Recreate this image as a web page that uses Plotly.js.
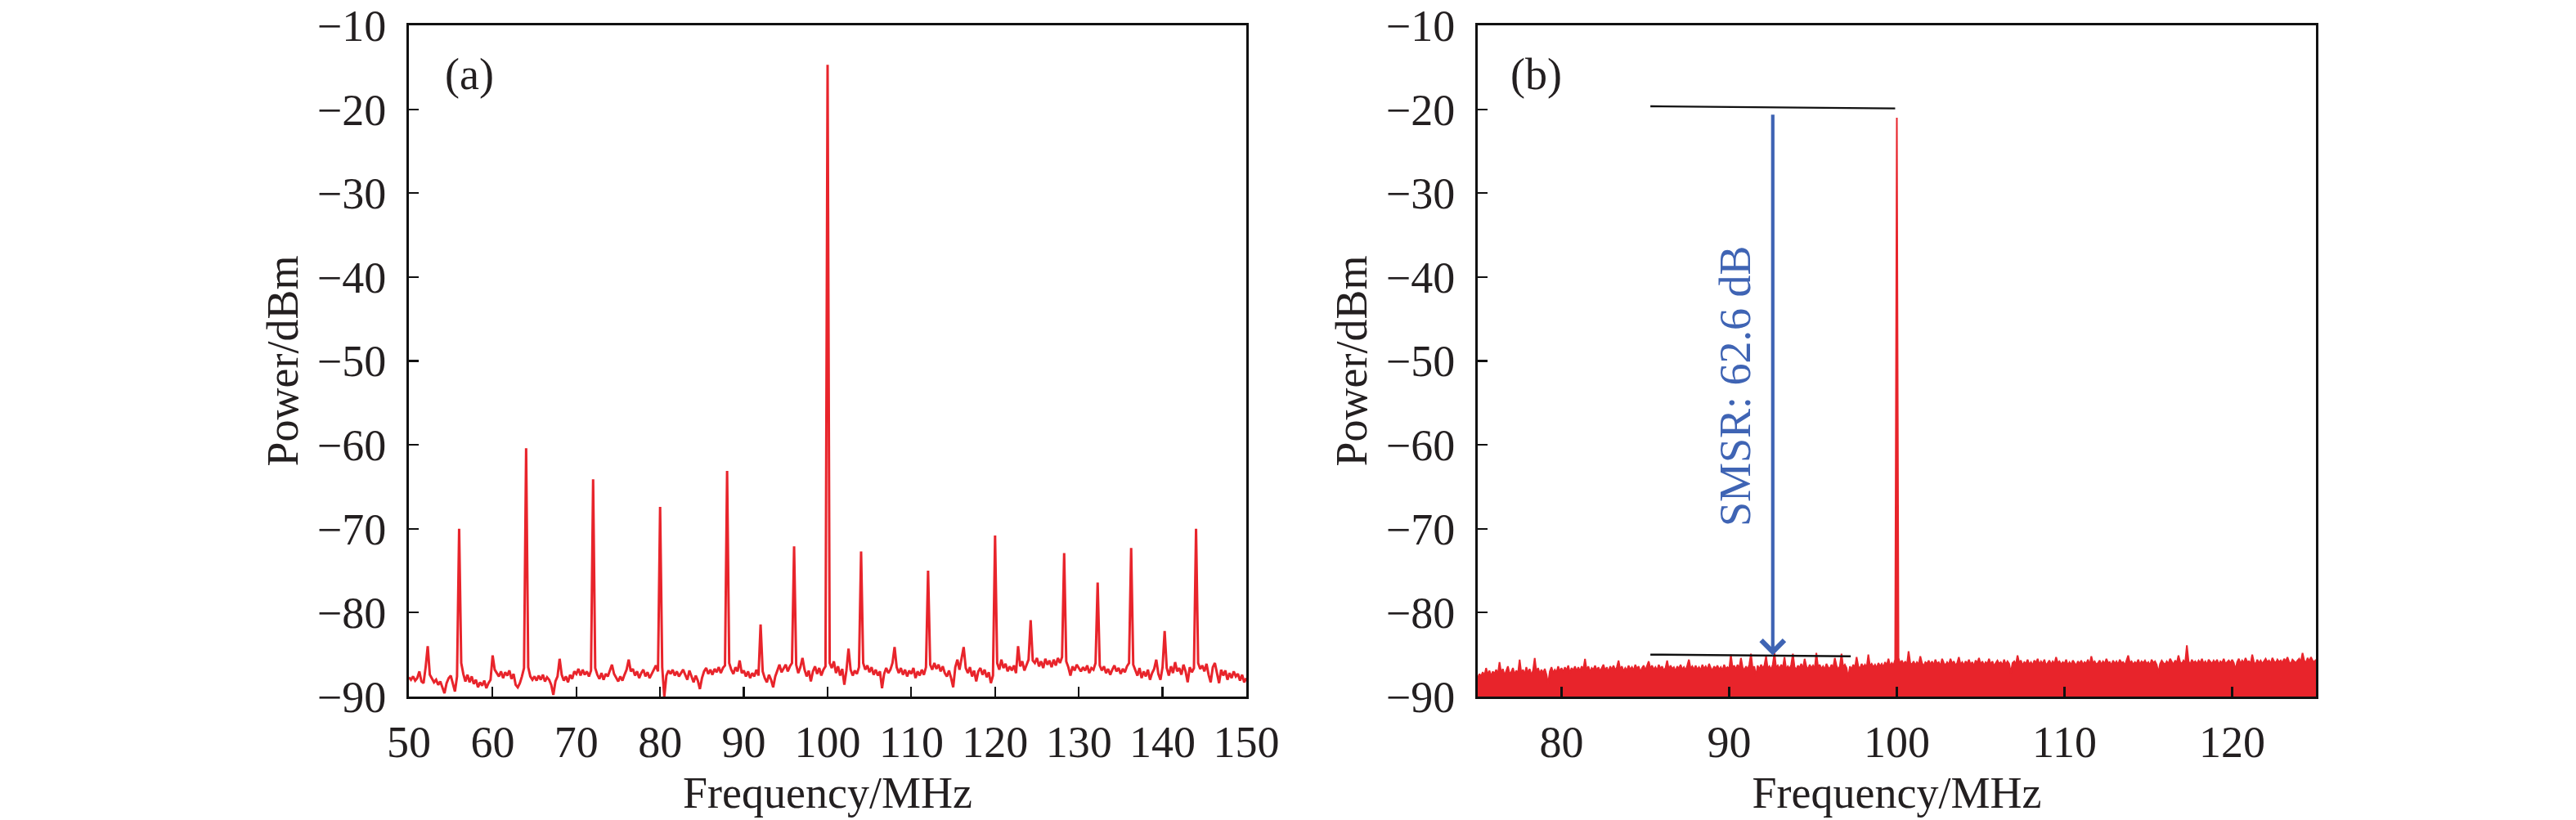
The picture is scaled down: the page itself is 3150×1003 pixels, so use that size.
<!DOCTYPE html>
<html>
<head>
<meta charset="utf-8">
<script src="https://cdn.plot.ly/plotly-3.0.1.min.js"></script>
<style>html,body{margin:0;padding:0;background:#fff;}#chart{width:3150px;height:1003px;}</style>
</head>
<body>
<div id="chart"></div>
<script>
// ---------- Panel (a): spectrum 50-150 MHz, sampled every 0.25 MHz ----------
const freqStartA = 50;
const freqStepA = 0.25;
const powerA = [
  // 50.00 - 54.75
  -87.7,-88.0,-87.6,-88.1,-87.8,-87.0,-88.2,-88.4,-86.5,-84.0,-87.4,-87.9,-88.3,-88.0,-88.6,-88.2,-88.9,-89.6,-88.4,-87.8,
  // 55.00 - 59.75
  -87.5,-88.6,-89.4,-87.6,-70.0,-86.0,-87.3,-88.2,-87.4,-88.3,-87.6,-88.5,-88.0,-88.9,-88.3,-88.7,-88.1,-89.0,-88.4,-88.0,
  // 60.00 - 64.75
  -85.1,-86.8,-87.2,-87.6,-87.0,-87.8,-87.1,-87.5,-86.9,-87.9,-87.3,-88.6,-88.9,-88.4,-87.6,-86.6,-60.4,-86.5,-87.6,-88.0,
  // 65.00 - 69.75
  -87.6,-88.1,-87.5,-88.0,-87.4,-88.2,-87.7,-88.0,-88.6,-89.8,-88.2,-87.6,-85.5,-87.4,-88.1,-87.6,-88.3,-87.4,-87.9,-87.0,
  // 70.00 - 74.75
  -87.3,-86.7,-87.5,-86.8,-87.4,-87.0,-87.6,-86.9,-64.1,-86.6,-87.4,-87.9,-87.2,-88.0,-87.3,-87.6,-86.9,-86.2,-87.3,-87.8,
  // 75.00 - 79.75
  -88.2,-87.6,-88.1,-87.4,-86.8,-85.6,-87.0,-86.7,-87.5,-87.0,-87.8,-87.2,-86.8,-87.6,-87.1,-87.8,-87.3,-86.9,-86.3,-87.0,
  // 80.00 - 84.75
  -67.4,-86.5,-90.0,-87.5,-86.9,-87.3,-86.8,-87.5,-87.0,-87.6,-87.2,-86.8,-87.4,-88.0,-86.9,-87.6,-88.3,-87.5,-88.1,-89.1,
  // 85.00 - 89.75
  -87.8,-87.0,-86.6,-87.3,-86.8,-87.4,-86.7,-87.1,-86.5,-87.2,-86.6,-86.3,-63.1,-86.0,-86.8,-87.3,-86.5,-87.0,-85.7,-87.2,
  // 90.00 - 94.75
  -86.9,-87.6,-87.0,-87.8,-87.2,-87.6,-86.8,-87.5,-81.4,-87.0,-87.8,-88.3,-87.4,-88.0,-88.9,-87.6,-86.8,-86.2,-87.1,-86.6,
  // 95.00 - 99.75
  -86.2,-87.0,-86.4,-86.0,-72.1,-86.2,-87.2,-86.5,-85.4,-86.8,-87.6,-86.9,-88.2,-87.0,-86.4,-87.3,-86.6,-87.5,-86.8,-86.4,
  // 100.00 - 104.75
  -14.7,-86.0,-86.6,-85.8,-87.2,-86.4,-87.5,-86.7,-88.6,-86.9,-84.3,-86.8,-87.5,-86.9,-87.3,-86.5,-72.7,-86.0,-86.8,-86.3,
  // 105.00 - 109.75
  -87.1,-86.5,-87.4,-86.8,-87.5,-87.0,-89.0,-87.3,-86.6,-87.2,-86.8,-86.0,-84.1,-86.5,-87.2,-86.6,-87.4,-86.8,-87.6,-86.9,
  // 110.00 - 114.75
  -87.3,-86.6,-87.8,-87.0,-87.5,-86.8,-87.4,-86.5,-75.0,-86.2,-86.8,-86.0,-86.7,-86.2,-87.0,-86.4,-87.2,-87.6,-86.9,-87.8,
  // 115.00 - 119.75
  -88.9,-86.5,-85.6,-86.8,-85.3,-84.1,-86.6,-87.2,-86.5,-87.6,-86.9,-88.2,-87.0,-86.6,-87.4,-86.8,-87.7,-87.1,-88.4,-87.5,
  // 120.00 - 124.75
  -70.8,-86.0,-86.8,-85.6,-86.6,-86.1,-87.0,-86.4,-86.9,-86.3,-87.2,-84.0,-86.4,-85.8,-86.9,-86.2,-85.6,-80.9,-85.7,-86.0,
  // 125.00 - 129.75
  -85.4,-86.4,-85.8,-86.6,-85.5,-86.2,-85.7,-86.5,-85.6,-86.3,-85.4,-86.0,-85.3,-72.9,-85.8,-86.5,-87.5,-86.4,-86.9,-86.2,
  // 130.00 - 134.75
  -86.6,-87.0,-86.5,-86.9,-86.3,-87.2,-86.6,-86.8,-86.0,-76.4,-86.3,-86.9,-86.4,-87.2,-86.7,-87.4,-86.8,-86.3,-87.0,-86.6,
  // 135.00 - 139.75
  -87.3,-86.7,-87.1,-86.4,-86.0,-72.3,-86.2,-86.9,-87.5,-86.6,-87.8,-87.0,-87.6,-86.8,-88.0,-87.2,-86.7,-85.6,-87.3,-88.0,
  // 140.00 - 144.75
  -86.5,-82.2,-86.6,-87.5,-86.4,-87.2,-85.9,-87.0,-86.6,-87.4,-86.2,-87.0,-88.3,-86.5,-87.1,-86.6,-70.0,-86.0,-86.7,-86.3,
  // 145.00 - 149.75
  -87.0,-86.1,-87.4,-88.3,-86.5,-86.0,-87.3,-88.4,-86.8,-87.5,-86.9,-88.0,-87.2,-87.8,-87.0,-87.6,-87.3,-88.1,-87.4,-88.3,
  // 150.00
  -87.8
];

// ---------- Panel (b): spectrum 75-125 MHz, sampled every 0.1 MHz ----------
const freqStartB = 75;
const freqStepB = 0.1;
const powerB = [
  -87.8,-87.3,-87.6,-87.1,-87.5,-86.6,-87.4,-86.9,-87.6,-87.0, // 75
  -87.3,-86.8,-87.4,-85.9,-87.2,-86.7,-87.5,-87.0,-86.4,-87.3, // 76
  -87.1,-86.6,-87.4,-86.9,-87.3,-85.6,-87.2,-86.8,-87.4,-86.5, // 77
  -87.2,-86.7,-87.5,-86.9,-85.4,-87.1,-86.6,-87.3,-86.8,-87.2, // 78
  -86.7,-87.4,-88.5,-87.0,-86.5,-87.2,-86.8,-87.1,-86.4,-87.0, // 79
  -86.6,-87.1,-86.5,-86.9,-86.3,-87.2,-86.6,-86.9,-86.4,-87.0, // 80
  -86.5,-87.0,-86.4,-86.8,-85.5,-86.9,-86.4,-87.1,-86.6,-86.8, // 81
  -86.3,-86.9,-86.5,-87.0,-86.6,-86.2,-86.9,-86.5,-87.1,-86.4, // 82
  -86.8,-86.3,-86.9,-86.5,-85.7,-86.8,-86.4,-87.0,-86.6,-86.9, // 83
  -86.3,-86.8,-86.5,-86.9,-86.2,-86.7,-86.4,-87.1,-86.6,-86.3, // 84
  -86.9,-86.4,-85.8,-86.7,-86.3,-86.8,-86.5,-86.9,-86.2,-86.7, // 85
  -86.4,-86.9,-86.6,-85.7,-86.8,-86.3,-86.7,-86.5,-87.0,-86.4, // 86
  -86.7,-86.2,-86.8,-86.5,-86.9,-86.3,-85.6,-86.7,-86.4,-86.8, // 87
  -86.3,-86.8,-86.5,-86.9,-86.2,-86.7,-86.4,-86.8,-86.1,-86.6, // 88
  -86.9,-86.4,-86.7,-86.3,-86.8,-86.5,-86.9,-86.2,-86.7,-86.5, // 89
  -86.8,-85.0,-86.6,-86.3,-86.8,-86.2,-86.7,-85.4,-86.5,-86.9, // 90
  -86.4,-86.8,-86.2,-84.9,-86.7,-86.4,-87.6,-86.3,-86.8,-86.2, // 91
  -86.6,-86.3,-85.2,-86.7,-86.4,-86.8,-86.2,-84.8,-86.6,-86.3, // 92
  -86.7,-86.2,-86.6,-85.3,-86.8,-86.4,-86.7,-86.2,-84.9,-86.5, // 93
  -86.8,-86.3,-86.6,-86.1,-86.7,-85.5,-86.4,-86.8,-86.2,-86.6, // 94
  -86.3,-86.7,-84.8,-86.5,-86.2,-86.7,-86.4,-86.8,-86.1,-86.5, // 95
  -86.7,-86.2,-86.6,-85.4,-86.3,-86.8,-86.4,-84.9,-86.5,-86.2, // 96
  -86.6,-87.8,-86.4,-86.8,-86.2,-86.6,-85.3,-86.4,-86.7,-86.1, // 97
  -86.5,-86.2,-86.6,-85.0,-86.4,-86.1,-86.5,-86.2,-86.6,-86.0, // 98
  -86.4,-86.1,-86.5,-85.9,-86.3,-85.5,-86.4,-86.0,-86.3,-85.6, // 99
  -21.0,-85.4,-86.1,-85.7,-86.2,-85.8,-86.3,-84.6,-86.0,-86.2, // 100
  -85.8,-86.3,-85.9,-86.2,-85.2,-86.0,-86.4,-85.9,-86.1,-85.7, // 101
  -86.2,-85.8,-86.3,-85.6,-86.1,-85.9,-86.4,-85.5,-86.0,-86.3, // 102
  -85.9,-86.2,-85.5,-86.1,-85.8,-86.3,-86.0,-85.3,-86.2,-85.9, // 103
  -86.3,-85.8,-86.1,-85.6,-86.2,-85.9,-86.4,-85.7,-86.0,-85.4, // 104
  -86.2,-85.8,-86.3,-85.9,-86.1,-85.5,-86.2,-85.8,-86.4,-86.0, // 105
  -85.7,-86.1,-85.9,-86.3,-85.6,-86.2,-85.8,-86.1,-87.2,-86.0, // 106
  -85.8,-86.2,-85.1,-86.0,-85.7,-86.3,-85.9,-86.1,-85.6,-86.2, // 107
  -85.9,-86.3,-85.7,-86.0,-85.5,-86.2,-85.8,-86.1,-85.6,-86.3, // 108
  -86.0,-85.7,-86.2,-85.8,-86.1,-85.3,-86.0,-85.8,-86.2,-85.9, // 109
  -86.1,-85.6,-86.3,-85.9,-86.2,-85.7,-86.0,-86.3,-85.8,-86.1, // 110
  -85.7,-86.2,-85.9,-86.1,-85.6,-86.3,-85.2,-86.0,-85.8,-86.2, // 111
  -86.0,-85.7,-86.2,-85.8,-86.1,-85.5,-86.0,-85.9,-86.3,-85.7, // 112
  -86.1,-85.8,-86.2,-85.6,-86.0,-85.9,-86.3,-85.7,-85.1,-86.0, // 113
  -85.8,-86.2,-85.9,-86.1,-85.6,-86.2,-85.8,-86.0,-85.7,-86.1, // 114
  -85.9,-86.3,-85.6,-86.0,-85.8,-86.2,-87.2,-86.1,-85.7,-86.0, // 115
  -86.2,-85.8,-86.1,-85.5,-85.9,-86.2,-85.7,-86.0,-85.1,-85.9, // 116
  -86.1,-85.7,-86.0,-83.9,-85.8,-86.2,-85.6,-86.0,-85.8,-86.1, // 117
  -85.7,-86.0,-85.5,-86.1,-85.8,-86.2,-85.6,-85.9,-86.1,-85.7, // 118
  -86.0,-85.6,-86.2,-85.8,-86.0,-85.5,-86.1,-85.9,-85.7,-86.0, // 119
  -85.6,-86.0,-86.8,-85.9,-85.5,-86.1,-85.7,-86.0,-85.4,-85.9, // 120
  -85.8,-86.1,-85.0,-85.9,-86.2,-85.6,-86.0,-85.7,-86.1,-85.8, // 121
  -85.5,-85.9,-85.7,-86.1,-85.4,-85.8,-86.0,-85.6,-85.9,-85.7, // 122
  -86.0,-85.5,-85.8,-85.3,-85.9,-86.1,-85.6,-85.8,-86.0,-85.7, // 123
  -85.5,-85.9,-84.8,-85.7,-86.0,-85.4,-85.8,-85.3,-85.7,-85.9, // 124
  -85.6                                                        // 125
];

// axis extents and ticks
const rangeXA = [50, 150];
const rangeXB = [75, 125];
const rangeY = [-90, -10];
const tickValsY = [-90, -80, -70, -60, -50, -40, -30, -20, -10];
const tickValsXA = [50, 60, 70, 80, 90, 100, 110, 120, 130, 140, 150];
const tickValsXB = [80, 90, 100, 110, 120];
const floorB = [-90, -90];

// SMSR annotation values (panel b)
const smsrText = 'SMSR: 62.6 dB';
const smsrX = 92.6;
const smsrTop = -20.5;
const smsrBottom = -85.1;
const refTop = {x: [85.3, 99.9], y: [-19.65, -19.9]};
const refBottom = {x: [85.3, 97.25], y: [-85.0, -85.2]};

const RED = '#e8242b';
const BLUE = '#3f64b4';
const INK = '#231f20';
const FONT = '"Liberation Serif", "Times New Roman", serif';

const traces = [
  {x0: freqStartA, dx: freqStepA, y: powerA, type: 'scatter', mode: 'lines',
   line: {color: RED, width: 3}, xaxis: 'x', yaxis: 'y', hoverinfo: 'skip'},
  {x: rangeXB, y: floorB, type: 'scatter', mode: 'lines',
   line: {color: RED, width: 0}, xaxis: 'x2', yaxis: 'y2', hoverinfo: 'skip'},
  {x0: freqStartB, dx: freqStepB, y: powerB, type: 'scatter', mode: 'lines',
   line: {color: RED, width: 2}, fill: 'tonexty', fillcolor: RED,
   xaxis: 'x2', yaxis: 'y2', hoverinfo: 'skip'}
];

function xAxis(domain, range, anchor, tv) {
  return {
    domain: domain, range: range, anchor: anchor,
    showline: true, mirror: true, linecolor: '#111', linewidth: 3,
    ticks: 'inside', ticklen: 12, tickwidth: 2.2, tickcolor: '#111',
    tickmode: 'array', tickvals: tv, showgrid: false, zeroline: false,
    tickfont: {family: FONT, size: 54, color: INK},
    ticklabelstandoff: 6, ticklabeloverflow: 'allow',
    title: {text: 'Frequency/MHz', font: {family: FONT, size: 54, color: INK}, standoff: 14}
  };
}
function yAxis(anchor) {
  return {
    domain: [0.15055, 0.96909], range: rangeY, anchor: anchor,
    showline: true, mirror: true, linecolor: '#111', linewidth: 3,
    ticks: 'inside', ticklen: 12, tickwidth: 2.2, tickcolor: '#111',
    tickmode: 'array', tickvals: tickValsY, showgrid: false, zeroline: false,
    tickfont: {family: FONT, size: 54, color: INK},
    ticklabelstandoff: 14, ticklabeloverflow: 'allow',
    title: {text: 'Power/dBm', font: {family: FONT, size: 54, color: INK}, standoff: 6}
  };
}

const layout = {
  width: 3150, height: 1003,
  margin: {l: 0, r: 0, t: 0, b: 0},
  paper_bgcolor: '#fff', plot_bgcolor: '#fff',
  showlegend: false,
  xaxis: xAxis([0.15873, 0.48381], rangeXA, 'y', tickValsXA),
  yaxis: yAxis('x'),
  xaxis2: xAxis([0.57365, 0.89905], rangeXB, 'y2', tickValsXB),
  yaxis2: yAxis('x2'),
  shapes: [
    {type: 'line', xref: 'x2', yref: 'y2', x0: refTop.x[0], x1: refTop.x[1], y0: refTop.y[0], y1: refTop.y[1],
     line: {color: '#111', width: 2.4}},
    {type: 'line', xref: 'x2', yref: 'y2', x0: refBottom.x[0], x1: refBottom.x[1], y0: refBottom.y[0], y1: refBottom.y[1],
     line: {color: '#111', width: 2.4}}
  ],
  annotations: [
    {text: '(a)', xref: 'x', yref: 'y', x: 54.1, y: -15.8, xanchor: 'left', yanchor: 'middle',
     showarrow: false, font: {family: FONT, size: 54, color: INK}},
    {text: '(b)', xref: 'x2', yref: 'y2', x: 76.85, y: -15.8, xanchor: 'left', yanchor: 'middle',
     showarrow: false, font: {family: FONT, size: 54, color: INK}},
    {text: '', xref: 'x2', yref: 'y2', x: smsrX, y: smsrBottom, axref: 'x2', ayref: 'y2',
     ax: smsrX, ay: smsrTop, showarrow: true, arrowhead: 4, arrowsize: 1.3, arrowwidth: 4.2,
     arrowcolor: BLUE, standoff: 0, startstandoff: 0},
    {text: smsrText, xref: 'x2', yref: 'y2', x: 90.4, y: -53.0, xanchor: 'center', yanchor: 'middle',
     textangle: -90, showarrow: false, font: {family: FONT, size: 54, color: BLUE}}
  ]
};

Plotly.newPlot('chart', traces, layout, {staticPlot: true, displayModeBar: false});
</script>
</body>
</html>
